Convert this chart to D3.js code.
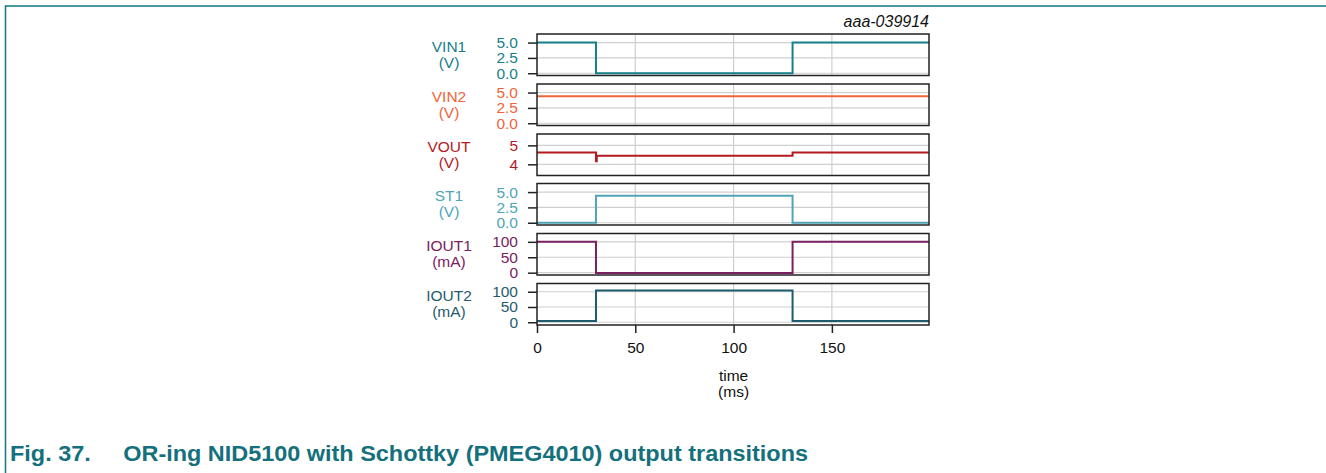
<!DOCTYPE html>
<html><head><meta charset="utf-8">
<script src="https://cdn.jsdelivr.net/npm/d3@7"></script>
<style>html,body{margin:0;padding:0;background:#fff;} svg{display:block;font-family:"Liberation Sans",Arial,sans-serif;}</style>
</head><body>
<script>
// ---- data ----
const timeDomain = [0, 199.4];
const xTicks = [0, 50, 100, 150];
const vin1T = [0, 30, 30, 130, 130, 199.4];
const vin1V = [5.0, 5.0, 0.0, 0.0, 5.0, 5.0];
const vin2T = [0, 199.4];
const vin2V = [4.4, 4.4];
const voutT = [0, 30, 30, 30.4, 30.4, 130, 130, 199.4];
const voutV = [4.63, 4.63, 4.16, 4.16, 4.45, 4.45, 4.63, 4.63];
const st1T = [0, 30, 30, 130, 130, 199.4];
const st1V = [0.0, 0.0, 4.42, 4.42, 0.0, 0.0];
const iout1T = [0, 30, 30, 130, 130, 199.4];
const iout1V = [100, 100, -1, -1, 100, 100];
const iout2T = [0, 30, 30, 130, 130, 199.4];
const iout2V = [4, 4, 104, 104, 4, 4];

const panelNames = ["VIN1", "VIN2", "VOUT", "ST1", "IOUT1", "IOUT2"];
const panelUnits = ["(V)", "(V)", "(V)", "(V)", "(mA)", "(mA)"];
const panelDomains = [[-0.37, 6.4], [-0.37, 6.4], [3.41, 5.6], [-0.37, 6.4], [-7.5, 127], [-9, 127]];
const yTickLists = [[0, 2.5, 5], [0, 2.5, 5], [4, 5], [0, 2.5, 5], [0, 50, 100], [0, 50, 100]];
const yTickFormats = [".1f", ".1f", "d", ".1f", "d", "d"];
const seriesT = [vin1T, vin2T, voutT, st1T, iout1T, iout2T];
const seriesV = [vin1V, vin2V, voutV, st1V, iout1V, iout2V];
const colors = ["#17808a", "#f0643c", "#b3191f", "#4ea5b7", "#7a2160", "#1f5b6c"];

// ---- layout ----
const W = 1326, H = 473;
const left = 537, right = 929;
const panelTops = [34, 84, 134, 183.5, 233.5, 283.5];
const panelH = 41.5;

const svg = d3.select("body").append("svg").attr("width", W).attr("height", H);

// frame
svg.append("path").attr("d", `M5.5,${H} L5.5,6 L${W},6`).attr("fill", "none")
  .attr("stroke", "#127582").attr("stroke-width", 1.5);

const x = d3.scaleLinear().domain(timeDomain).range([left, right]);

svg.append("text").attr("x", right).attr("y", 27).attr("text-anchor", "end")
  .attr("font-size", 16).attr("font-style", "italic").attr("fill", "#111").text("aaa-039914");

panelTops.forEach((top, i) => {
  const y = d3.scaleLinear().domain(panelDomains[i]).range([top + panelH, top]);
  const g = svg.append("g");
  // gridlines
  g.selectAll(".hg").data(yTickLists[i]).join("line")
    .attr("x1", left).attr("x2", right).attr("y1", d => y(d)).attr("y2", d => y(d))
    .attr("stroke", "#cfcfcf").attr("stroke-width", 1.2);
  g.selectAll(".vg").data(xTicks.slice(1)).join("line")
    .attr("x1", d => x(d)).attr("x2", d => x(d)).attr("y1", top).attr("y2", top + panelH)
    .attr("stroke", "#cfcfcf").attr("stroke-width", 1.2);
  // series
  const pts = seriesT[i].map((t, k) => [t, seriesV[i][k]]);
  g.append("path").datum(pts)
    .attr("d", d3.line().x(d => x(d[0])).y(d => y(d[1])))
    .attr("fill", "none").attr("stroke", colors[i]).attr("stroke-width", 2);
  // border
  g.append("rect").attr("x", left).attr("y", top).attr("width", right - left).attr("height", panelH)
    .attr("fill", "none").attr("stroke", "#222").attr("stroke-width", 1.5);
  // y axis
  const ax = g.append("g").attr("transform", `translate(${left},0)`)
    .call(d3.axisLeft(y).tickValues(yTickLists[i]).tickFormat(d3.format(yTickFormats[i])).tickSize(9).tickPadding(10));
  ax.select(".domain").remove();
  ax.selectAll(".tick line").attr("stroke", "#222").attr("stroke-width", 1.5);
  ax.selectAll(".tick text").attr("font-size", 15.5).attr("fill", colors[i])
    .attr("font-family", "Liberation Sans, Arial, sans-serif");
  // label
  const cy = top + panelH / 2;
  g.append("text").attr("x", 449).attr("y", cy - 3).attr("text-anchor", "middle")
    .attr("font-size", 15.5).attr("fill", colors[i]).text(panelNames[i]);
  g.append("text").attr("x", 449).attr("y", cy + 13).attr("text-anchor", "middle")
    .attr("font-size", 15.5).attr("fill", colors[i]).text(panelUnits[i]);
});

// x axis
const bottom = panelTops[5] + panelH;
const xa = svg.append("g").attr("transform", `translate(0,${bottom})`)
  .call(d3.axisBottom(x).tickValues(xTicks).tickFormat(d3.format("d")).tickSize(8).tickPadding(9));
xa.select(".domain").remove();
xa.selectAll(".tick line").attr("stroke", "#222").attr("stroke-width", 1.5);
xa.selectAll(".tick text").attr("font-size", 15.5).attr("fill", "#111")
  .attr("font-family", "Liberation Sans, Arial, sans-serif");

svg.append("text").attr("x", x(100)).attr("y", 381).attr("text-anchor", "middle")
  .attr("font-size", 15.5).attr("fill", "#111").text("time");
svg.append("text").attr("x", x(100)).attr("y", 397).attr("text-anchor", "middle")
  .attr("font-size", 15.5).attr("fill", "#111").text("(ms)");

// caption
svg.append("text").attr("x", 10).attr("y", 461).attr("font-size", 22).attr("font-weight", "bold")
  .attr("fill", "#14707c").attr("textLength", 798).attr("lengthAdjust", "spacingAndGlyphs")
  .attr("xml:space", "preserve")
  .text("Fig. 37.\u00a0\u00a0\u00a0\u00a0\u00a0OR-ing NID5100 with Schottky (PMEG4010) output transitions");
</script>
</body></html>
